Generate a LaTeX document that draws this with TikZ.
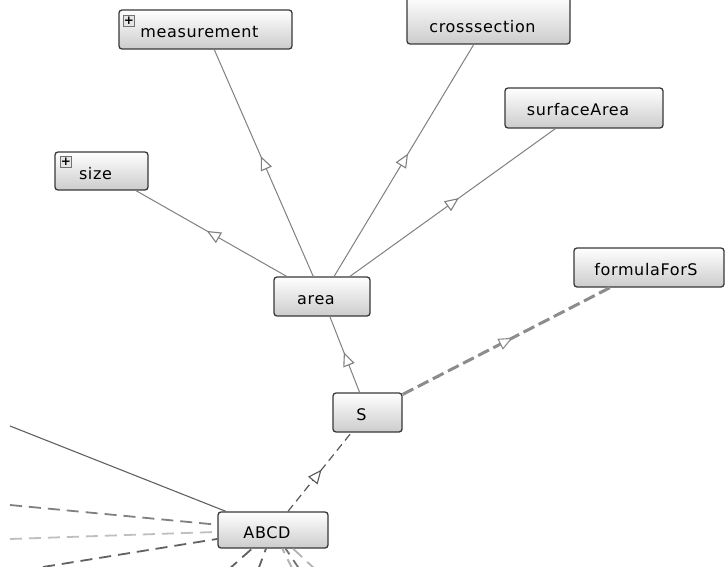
\documentclass[tikz,border=0pt]{standalone}
\usepackage{fontspec}
\setmainfont[LetterSpace=4]{DejaVu Sans}
\usetikzlibrary{arrows.meta,decorations.markings}
\tikzset{
  box/.style={draw=black!78, line width=1.3pt, rounded corners=3pt,
    top color=white, bottom color=black!20, inner sep=0pt,
    text height=16pt, text depth=0pt, font=\fontsize{16}{18}\selectfont},
  plusbox/.style={draw=black!55, line width=0.7pt, fill=black!10, inner sep=0pt,
    minimum size=11pt, font=\fontsize{12}{12}\selectfont\bfseries},
  midtri/.style={postaction={decorate, decoration={markings,
    mark=at position 0.53 with {\arrow{Triangle[length=14pt,width=12pt,fill=white,line width=1.1pt]}}}}},
  isa/.style={draw=black!50, line width=1pt, midtri},
  dep/.style={draw=black!65, line width=1.2pt, dash pattern=on 8pt off 5pt, midtri},
  depthick/.style={draw=black!45, line width=3pt, dash pattern=on 12pt off 5pt, midtri},
  fardash/.style={line width=1.8pt, dash pattern=on 12pt off 7pt},
}
\begin{document}
\begin{tikzpicture}[x=1pt,y=-1pt]
\useasboundingbox (0,0) rectangle (726,567);
\fill[white] (0,0) rectangle (726,567);

% nodes
\node[box, minimum width=173pt, minimum height=39pt] (meas) at (205.5,29.5) {\kern-12pt measurement};
\node[box, minimum width=163pt, minimum height=48pt] (cross) at (488.5,20) {\kern-12pt\raisebox{-5pt}{crosssection}};
\node[box, minimum width=158pt, minimum height=40pt] (surf) at (584,108) {\kern-12pt surfaceArea};
\node[box, minimum width=93pt, minimum height=38pt] (size) at (101.5,171) {\kern-12pt size};
\node[box, minimum width=96pt, minimum height=39pt] (area) at (322,296.5) {\kern-12pt area};
\node[box, minimum width=150pt, minimum height=39pt] (form) at (649,267.5) {\kern-6pt formulaForS};
\node[box, minimum width=69pt, minimum height=39pt] (S) at (367.5,412.5) {\kern-12pt S};
\node[box, minimum width=110pt, minimum height=36pt] (ABCD) at (273,530) {\kern-12pt ABCD};

\node[plusbox] (measplus) at (129,21) {+};
\node[plusbox] (sizeplus) at (66,162) {+};

% free ends
\coordinate (l0) at (10,426);
\coordinate (l1) at (10,505);
\coordinate (l2) at (10,539);
\coordinate (l3) at (43,567);
\coordinate (b1) at (228,570);
\coordinate (b2) at (258,570);
\coordinate (b3) at (293,570);
\coordinate (b4) at (300,570);
\coordinate (b5) at (316,570);

% connectors
\draw[isa] (area) -- (meas);
\draw[isa] (area) -- (size);
\draw[isa] (area) -- (cross);
\draw[isa] (area) -- (surf);
\draw[isa] (S) -- (area);
\draw[depthick] (S) -- (form);
\draw[dep] (ABCD) -- (S);
\draw[draw=black!62, line width=1.1pt] (l0) -- (ABCD);
\draw[fardash, draw=black!50] (l1) -- (ABCD);
\draw[fardash, draw=black!25] (l2) -- (ABCD);
\draw[fardash, draw=black!62] (l3) -- (ABCD);
\draw[fardash, draw=black!62] (b1) -- (ABCD);
\draw[fardash, draw=black!62] (b2) -- (ABCD);
\draw[fardash, draw=black!30] (b3) -- (ABCD);
\draw[fardash, draw=black!55] (b4) -- (ABCD);
\draw[fardash, draw=black!30] (b5) -- (ABCD);
\end{tikzpicture}
\end{document}
